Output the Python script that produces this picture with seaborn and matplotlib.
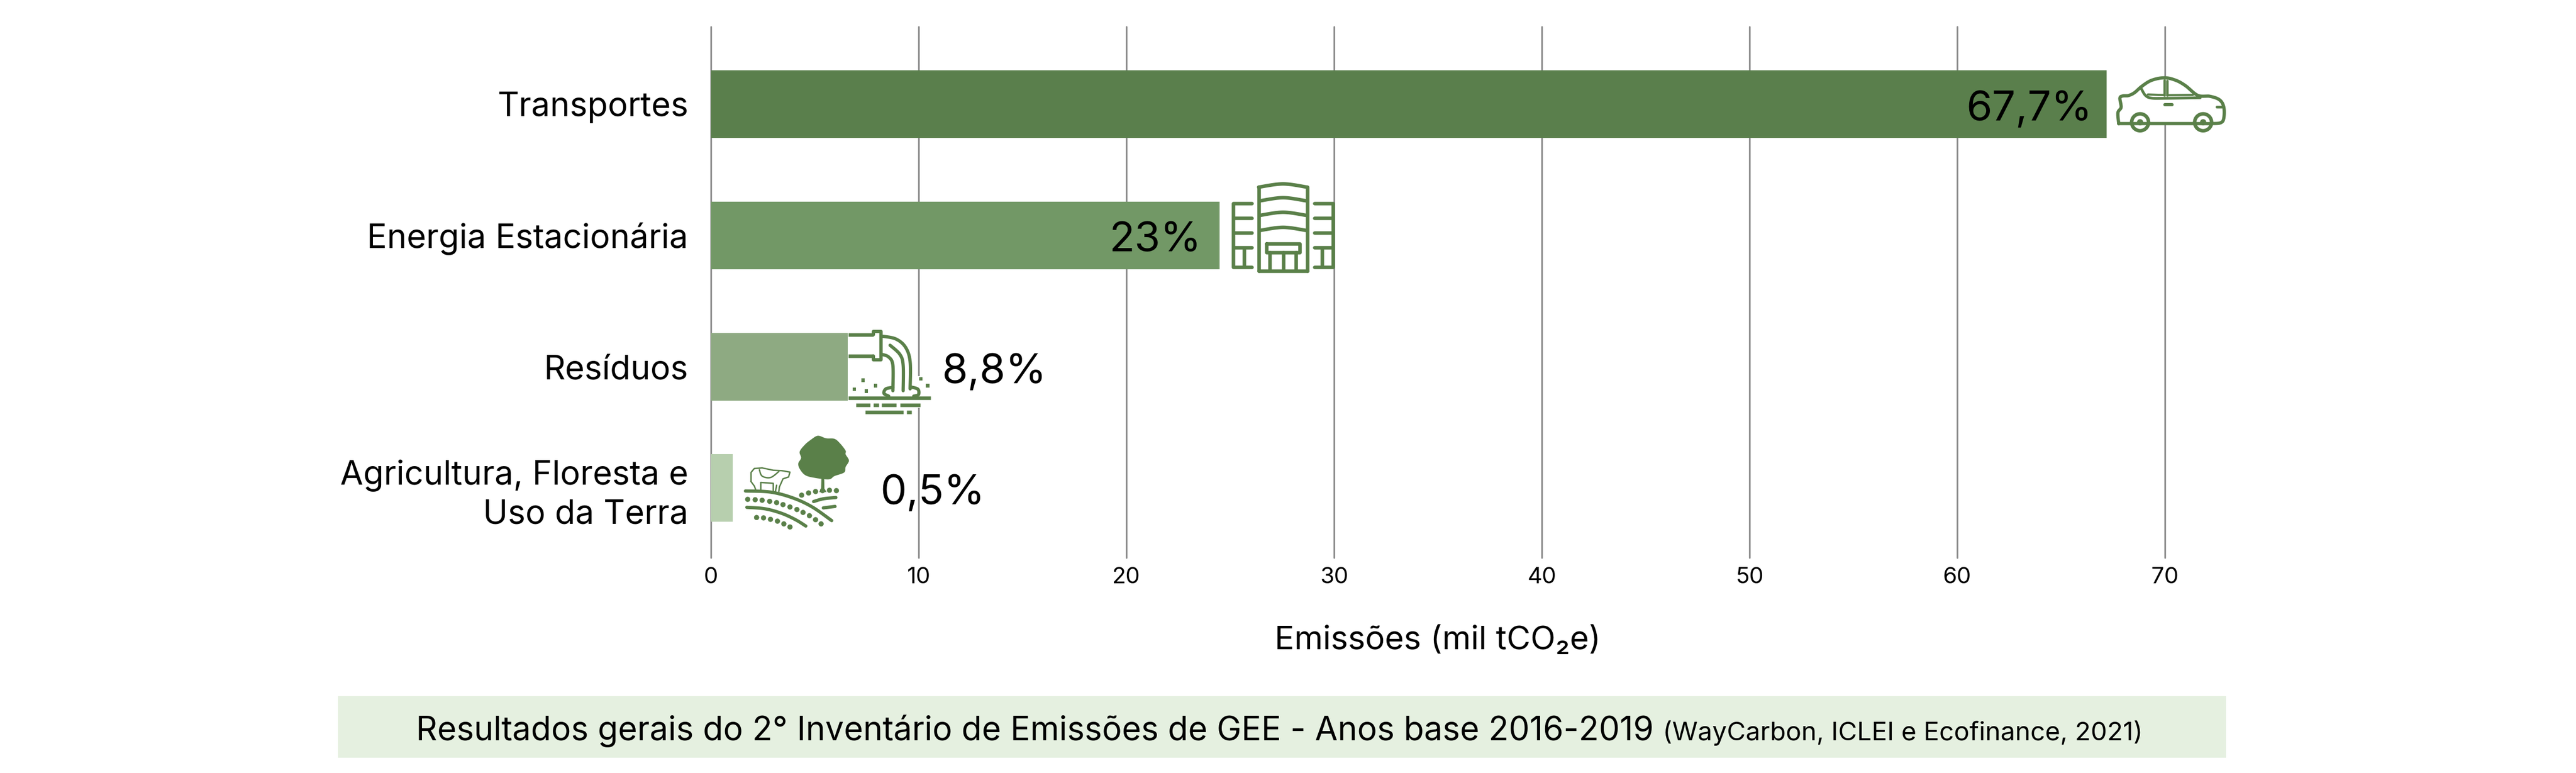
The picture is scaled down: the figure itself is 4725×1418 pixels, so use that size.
import numpy as np
import pandas as pd
import seaborn as sns
import matplotlib
matplotlib.use('Agg')
import matplotlib.pyplot as plt
from matplotlib.patches import Rectangle, Polygon, Ellipse

# dados
categories = ['Transportes', 'Energia Estacionária', 'Resíduos', 'Agricultura, Floresta e\nUso da Terra']
emissions = [67.2, 24.5, 6.6, 1.05]
share_labels = ['67,7%', '23%', '8,8%', '0,5%']
x_ticks = [0, 10, 20, 30, 40, 50, 60, 70]
bar_colors = ['#5A7F4C', '#729866', '#8EAA82', '#B7CFAE']
row_pos = [0, 1, 2, 2.92]

W, H = 4725, 1418
GREEN = '#5A8049'

sns.set_theme(style='white')
plt.rcParams['font.family'] = ['Inter', 'DejaVu Sans']
plt.rcParams['text.color'] = 'black'

fig = plt.figure(figsize=(W / 300, H / 300), dpi=300)
ax = fig.add_axes([1304 / W, 1 - 1023 / H, (3971 - 1304) / W, (1023 - 49) / H])

df = pd.DataFrame({'cat': categories, 'val': emissions, 'row': row_pos})
sns.barplot(data=df, x='val', y='row', hue='cat', palette=bar_colors, orient='y', native_scale=True,
            dodge=False, width=0.558, legend=False, saturation=1, linewidth=0, ax=ax)

ax.set_xlim(0, 70)
ax.set_ylim(3.452, -0.589)
ax.set_xticks(x_ticks)
ax.set_yticks(row_pos, categories)
ax.set_axisbelow(True)
ax.xaxis.grid(True, color='#8E8E8E', lw=0.75)
ax.yaxis.grid(False)
for line in ax.get_xgridlines():
    line.set_clip_on(False)
sns.despine(ax=ax, left=True, bottom=True, top=True, right=True)
ax.tick_params(axis='y', length=0, pad=10, labelsize=14.7, labelcolor='black')
ax.tick_params(axis='x', length=0, pad=4, labelsize=10, labelcolor='black')
for lab in ax.get_yticklabels():
    lab.set_linespacing(1.3)
    lab.set_verticalalignment('center_baseline')
ax.set_xlabel('Emissões (mil tCO₂e)', fontsize=14.4, labelpad=17, color='black')
ax.set_ylabel('')

# percentuais
ax.text(66.5, row_pos[0] + 0.01, share_labels[0], ha='right', va='center_baseline', fontsize=18.4)
ax.text(23.6, row_pos[1] + 0.01, share_labels[1], ha='right', va='center_baseline', fontsize=18.4)
ax.text(11.1, row_pos[2] + 0.01, share_labels[2], ha='left', va='center_baseline', fontsize=18.4)
ax.text(8.15, row_pos[3] + 0.01, share_labels[3], ha='left', va='center_baseline', fontsize=18.4)

# faixa da fonte
fig.patches.append(Rectangle((620 / W, 1 - 1390 / H), (4083 - 620) / W, (1390 - 1277) / H,
                             transform=fig.transFigure, fc='#E5F0E0', ec='none', figure=fig))
fig.text(763 / W, 1 - 1358 / H, 'Resultados gerais do 2° Inventário de Emissões de GEE - Anos base 2016-2019',
         fontsize=14.55, va='baseline', ha='left')
fig.text(3930 / W, 1 - 1358 / H, '(WayCarbon, ICLEI e Ecofinance, 2021)', fontsize=11.4, va='baseline', ha='right')

# camada dos icones, em pixels da figura
ic = fig.add_axes([0, 0, 1, 1], zorder=5)
ic.set_xlim(0, W)
ic.set_ylim(H, 0)
ic.axis('off')
ic.patch.set_alpha(0)


def smooth(pts, n=12):
    # catmull-rom simples so para os contornos dos icones
    p = np.array(pts, dtype=float)
    p = np.vstack([p[0], p, p[-1]])
    out = []
    for i in range(1, len(p) - 2):
        for t in np.linspace(0, 1, n, endpoint=False):
            out.append(0.5 * (2 * p[i] + (p[i + 1] - p[i - 1]) * t
                              + (2 * p[i - 1] - 5 * p[i] + 4 * p[i + 1] - p[i + 2]) * t ** 2
                              + (3 * p[i] - p[i - 1] - 3 * p[i + 1] + p[i + 2]) * t ** 3))
    out.append(p[-2])
    return np.array(out)


def make_icon(x0, y0, sx):
    def to_px(pts):
        a = np.array(pts, dtype=float)
        return np.column_stack([x0 + a[:, 0] / sx, y0 + a[:, 1] / 3])

    def line(pts, lw=5.5, curve=False, cap='round'):
        a = to_px(pts)
        if curve:
            a = smooth(a)
        ic.plot(a[:, 0], a[:, 1], color=GREEN, lw=lw * 0.24, solid_capstyle=cap, solid_joinstyle='round')

    def fill(pts, color=GREEN, curve=False):
        a = to_px(pts)
        if curve:
            a = smooth(a)
        ic.add_patch(Polygon(a, closed=True, fc=color, ec='none'))

    def oval(c, r, lw=5.5, fc='white'):
        a = to_px([c])[0]
        ic.add_patch(Ellipse(a, 2 * r, 2 * r, fc=fc, ec=GREEN, lw=lw * 0.24))

    return line, fill, oval


# carro
line, fill, oval = make_icon(3500, 0, 2.24)
car = [(865, 680), (862, 620), (875, 590), (870, 540), (882, 528), (905, 526), (930, 510), (960, 475), (1000, 442),
       (1053, 428), (1100, 442), (1140, 472), (1190, 525), (1240, 530), (1280, 550), (1297, 590), (1297, 650),
       (1285, 675), (1250, 680), (1170, 680), (1060, 680), (950, 680), (865, 680)]
fill(car, 'white', curve=True)
line(car, lw=6, curve=True)
line([(958, 488), (975, 525), (1000, 540), (1060, 541), (1200, 538)], lw=5, curve=True)
line([(1053, 440), (1053, 525)], lw=4.5)
line([(1065, 445), (1065, 525)], lw=4.5)
line([(985, 520), (1050, 523)], lw=4)
line([(1065, 524), (1170, 522)], lw=4)
line([(1056, 575), (1084, 575)], lw=6)
line([(1268, 588), (1288, 588)], lw=5)
for cx in (953, 1212):
    oval((cx, 673), 15.5, lw=6.5)
    oval((cx, 673), 5, lw=1.5, fc=GREEN)

# predio
line, fill, oval = make_icon(1900, 300, 2.613)
fill([(945, 218), (1425, 218), (1425, 570), (945, 570)], 'white')
line([(1068, 590), (1068, 130)], lw=6.5)
line([(1300, 590), (1300, 130)], lw=6.5)
line([(1068, 590), (1300, 590)], lw=6.5)
line([(1068, 130), (1185, 112), (1300, 130)], lw=6.5, curve=True)
for yy in (205, 285, 368):
    line([(1075, yy), (1185, yy - 17), (1295, yy)], lw=6.5, curve=True)
line([(1105, 440), (1265, 440), (1265, 488), (1105, 488), (1105, 440)], lw=6.5)
for xx in (1122, 1185, 1247):
    line([(xx, 490), (xx, 585)], lw=6.5)
line([(1035, 218), (945, 218), (945, 570), (1035, 570)], lw=6.5)
line([(1335, 218), (1425, 218), (1425, 570), (1335, 570)], lw=6.5)
for yy in (300, 382, 463):
    line([(950, yy), (1035, yy)], lw=6.5)
    line([(1335, yy), (1420, yy)], lw=6.5)
line([(998, 470), (998, 565)], lw=6.5)
line([(1372, 470), (1372, 565)], lw=6.5)

# tubo de efluente
line, fill, oval = make_icon(1250, 580, 1.96)
fill([(603, 330), (866, 330), (866, 505), (603, 505)], 'white')
line([(600, 103), (690, 103)], lw=6.5, cap='butt')
line([(600, 218), (690, 218)], lw=6.5, cap='butt')
line([(690, 103), (690, 85), (718, 85), (718, 240), (690, 240), (690, 218)], lw=6)
line([(720, 110), (770, 125), (805, 170), (822, 250), (822, 400)], lw=6, curve=True)
line([(720, 210), (745, 225), (760, 270), (760, 410)], lw=6, curve=True)
line([(750, 160), (785, 210), (797, 270), (797, 410)], lw=6, curve=True)
line([(760, 392), (735, 400), (728, 425), (745, 440)], lw=6, curve=True)
line([(825, 390), (850, 402), (852, 432), (835, 440)], lw=6, curve=True)
line([(600, 450), (895, 450)], lw=6.5, cap='butt')
for a, b in ((628, 678), (690, 710), (720, 772), (785, 858)):
    line([(a, 488), (b, 488)], lw=6.5, cap='butt')
for a, b in ((660, 798), (810, 828)):
    line([(a, 527), (b, 527)], lw=6.5, cap='butt')
for dx, dy in ((653, 353), (697, 383), (621, 402), (665, 412), (860, 345), (885, 382)):
    fill([(dx - 6, dy - 10), (dx + 6, dy - 10), (dx + 6, dy + 10), (dx - 6, dy + 10)])

# fazenda
tree = [(465, 680), (490, 658), (520, 672), (550, 675), (570, 700), (590, 740), (590, 760), (602, 795), (590, 830),
        (585, 860), (550, 880), (530, 898), (480, 890), (445, 875), (425, 840), (420, 810), (430, 780), (425, 745),
        (445, 705), (465, 680)]
fill(tree, curve=True)
fill([(503, 885), (513, 885), (514, 950), (522, 968), (495, 968), (502, 950)])
line([(230, 962), (320, 968), (400, 1000), (470, 1050), (540, 1125)], lw=6, curve=True)
line([(235, 1052), (300, 1060), (360, 1085), (410, 1120), (447, 1155)], lw=6, curve=True)
line([(475, 1020), (510, 1005), (555, 998)], lw=6, curve=True)
line([(510, 1055), (552, 1047)], lw=6)
dots = [(238, 1008), (265, 1010), (290, 1013), (317, 1019), (342, 1026), (365, 1037), (390, 1050), (415, 1064),
        (437, 1080), (460, 1098), (482, 1120), (502, 1143), (270, 1108), (295, 1110), (320, 1118), (345, 1128),
        (368, 1143), (390, 1160), (432, 985), (457, 973), (482, 965), (507, 960), (532, 958), (557, 960)]
for dx, dy in dots:
    oval((dx, dy), 4.5, lw=0.5, fc=GREEN)
# vaca
line([(250, 910), (250, 860), (262, 838), (290, 835), (330, 848), (360, 850), (390, 858), (385, 885), (365, 895),
      (352, 940), (350, 965)], lw=2.6)
line([(280, 845), (290, 880), (320, 888), (350, 855)], lw=2.6, curve=True)
line([(250, 910), (262, 935), (268, 960)], lw=2.6)
line([(285, 915), (330, 920), (330, 960)], lw=2.6)
line([(285, 915), (285, 960)], lw=2.6)
line([(342, 930), (338, 965)], lw=2.6)

fig.savefig('out.png', dpi=300)
